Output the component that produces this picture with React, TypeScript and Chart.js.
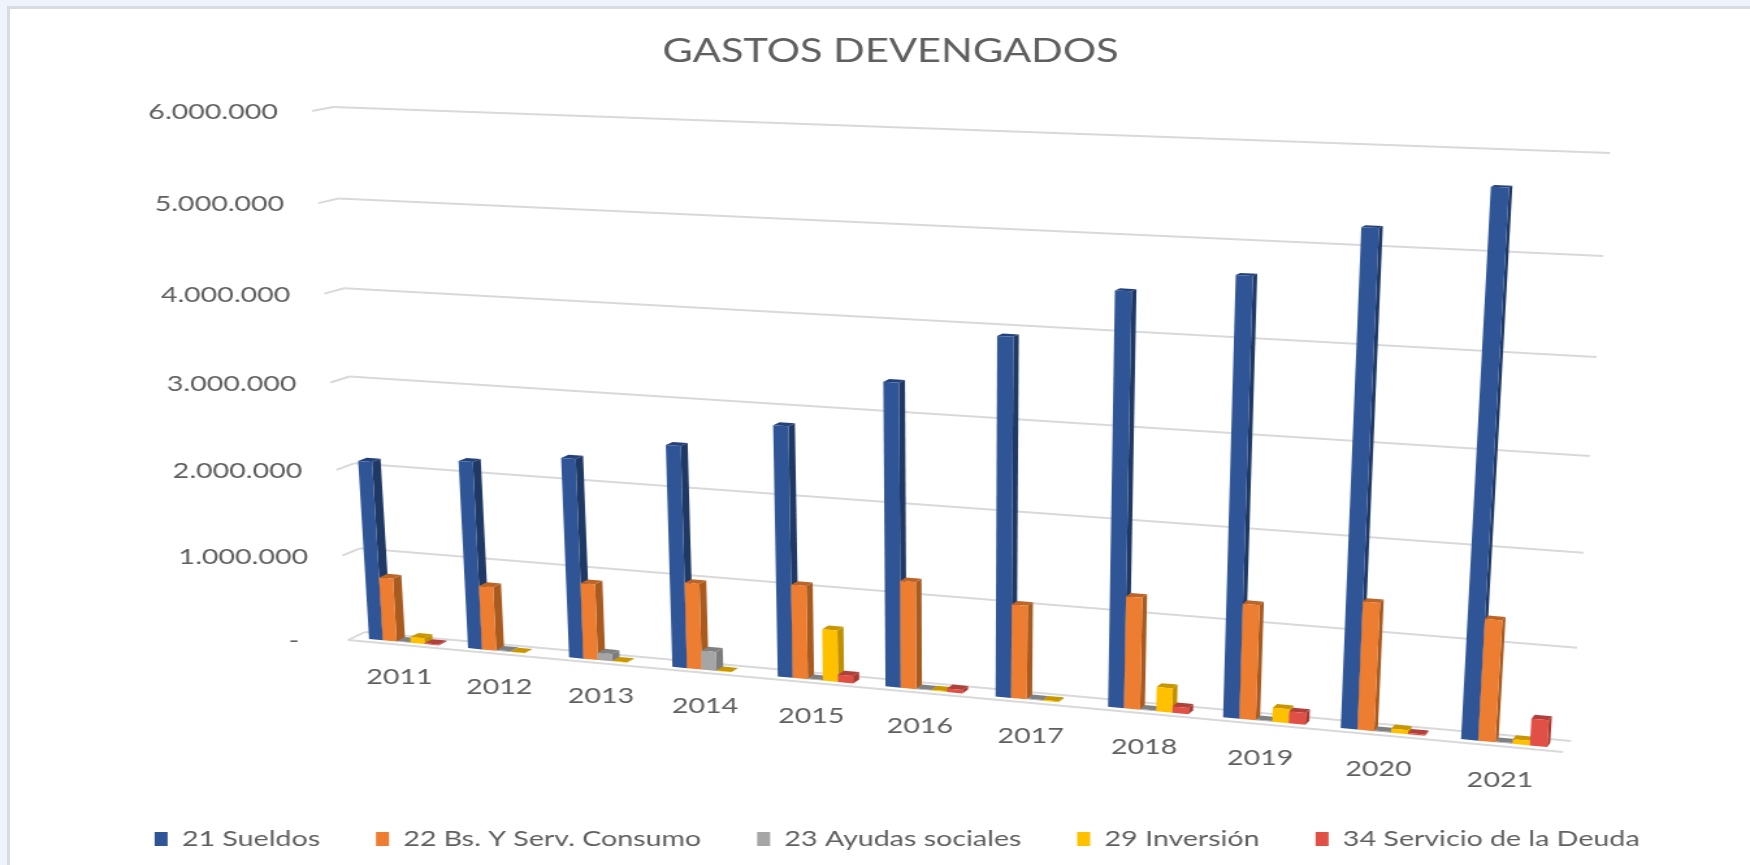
import React, { useEffect, useRef } from "react";
import { Chart, registerables } from "chart.js";

Chart.register(...registerables);

const categories = ["2011", "2012", "2013", "2014", "2015", "2016", "2017", "2018", "2019", "2020", "2021"];
const sueldos = [2106000, 2190000, 2310000, 2540000, 2840000, 3390000, 3950000, 4490000, 4710000, 5250000, 5700000];
const bienes = [750000, 750000, 885000, 990000, 1068000, 1212000, 1050000, 1242000, 1265000, 1392000, 1310000];
const ayudas = [8000, 8000, 85000, 220000, 8000, 8000, 8000, 8000, 8000, 8000, 8000];
const inversion = [70000, 3000, 4000, 3000, 590000, 10000, 10000, 270000, 155000, 45000, 50000];
const deuda = [10000, 0, 0, 0, 85000, 40000, 0, 70000, 130000, 15000, 290000];

const names = ["21 Sueldos", "22 Bs. Y Serv. Consumo", "23 Ayudas sociales", "29 Inversión", "34 Servicio de la Deuda"];
const seriesValues = [sueldos, bienes, ayudas, inversion, deuda];
const frontColors = ["#2f5597", "#ed7d31", "#a5a5a5", "#ffc000", "#e15045"];
const sideColors = ["#1f3864", "#a85a1f", "#7c7c7c", "#bf9000", "#a93b33"];
const topColors = ["#24427a", "#bd6427", "#808080", "#c79600", "#b2403a"];

const STRETCH = 1750 / 1346;
const FONT = "Lato";
const TEXT = "#5f5f5f";
const GRID = "#d9d9d9";

type Pt = [number, number];

function homography(p0: Pt, p1: Pt, p2: Pt, p3: Pt) {
  const dx1 = p1[0] - p2[0], dx2 = p3[0] - p2[0], sx = p0[0] - p1[0] + p2[0] - p3[0];
  const dy1 = p1[1] - p2[1], dy2 = p3[1] - p2[1], sy = p0[1] - p1[1] + p2[1] - p3[1];
  const det = dx1 * dy2 - dx2 * dy1;
  const g = (sx * dy2 - dx2 * sy) / det;
  const h = (dx1 * sy - sx * dy1) / det;
  const a = p1[0] - p0[0] + g * p1[0], b = p3[0] - p0[0] + h * p3[0], c = p0[0];
  const d = p1[1] - p0[1] + g * p1[1], e = p3[1] - p0[1] + h * p3[1], f = p0[1];
  return (u: number, v: number): Pt => {
    const w = g * u + h * v + 1;
    return [(a * u + b * v + c) / w, (d * u + e * v + f) / w];
  };
}

// wall = back plane of the 3D box; front = plane of the bars' front faces
const wall = homography([365, 632], [1571, 741], [1610, 153], [333, 107]);
const front = homography([354.5, 637.7], [1565.6, 748.7], [1604, 160], [321.5, 113]);

const depth = (u: number, v: number): Pt => [8.5 - 5.5 * u, -4 * (1 - 0.6 * v)];

const threeD = {
  id: "threeD",
  beforeDatasetDraw() {
    return false;
  },
  beforeDatasetsDraw(chart: any) {
    const { ctx, chartArea: area } = chart;
    const yScale = chart.scales.y;
    const xScale = chart.scales.x;
    const normU = (x: number) => (x - area.left) / (area.right - area.left);
    const normV = (y: number) => (area.bottom - y) / (area.bottom - area.top);
    const line = (a: Pt, b: Pt) => {
      ctx.beginPath();
      ctx.moveTo(a[0] / STRETCH, a[1]);
      ctx.lineTo(b[0] / STRETCH, b[1]);
      ctx.stroke();
    };
    const poly = (pts: Pt[], color: string) => {
      ctx.beginPath();
      pts.forEach((p, i) => (i ? ctx.lineTo(p[0] / STRETCH, p[1]) : ctx.moveTo(p[0] / STRETCH, p[1])));
      ctx.closePath();
      ctx.fillStyle = color;
      ctx.fill();
    };
    ctx.save();
    ctx.strokeStyle = GRID;
    ctx.lineWidth = 2;
    ctx.font = `22px ${FONT}`;
    ctx.fillStyle = TEXT;
    ctx.textBaseline = "middle";
    ctx.textAlign = "right";
    yScale.ticks.forEach((tick: any) => {
      const v = normV(yScale.getPixelForValue(tick.value));
      const kink = wall(0, v);
      const start: Pt = [kink[0] - 17 - 4 * v, kink[1] + 8 - 4 * v];
      line(start, kink);
      line(kink, wall(1, v));
      ctx.fillStyle = TEXT;
      ctx.fillText(tick.label, (start[0] - 34) / STRETCH, start[1] + 1);
    });
    line([348, 640], [1563, 752]);

    chart.getDatasetMeta(0).data.forEach((_: any, i: number) => {
      seriesValues.forEach((_s, s) => {
        const bar: any = chart.getDatasetMeta(s).data[i];
        if (!seriesValues[s][i]) return;
        const uL = normU(bar.x - bar.width / 2);
        const uR = normU(bar.x + bar.width / 2);
        const vB = normV(bar.base);
        const vT = normV(bar.y);
        const fl = front(uL, vB), fr = front(uR, vB), tr = front(uR, vT), tl = front(uL, vT);
        const off = (p: Pt, u: number, v: number): Pt => {
          const d = depth(u, v);
          return [p[0] + d[0], p[1] + d[1]];
        };
        poly([fr, tr, off(tr, uR, vT), off(fr, uR, vB)], sideColors[s]);
        poly([tl, tr, off(tr, uR, vT), off(tl, uL, vT)], topColors[s]);
        poly([fl, fr, tr, tl], frontColors[s]);
      });
    });

    ctx.font = `22px ${FONT}`;
    ctx.fillStyle = TEXT;
    ctx.textAlign = "center";
    xScale.ticks.forEach((_t: any, i: number) => {
      const u = normU(xScale.getPixelForTick(i));
      const p = front(u, 0);
      ctx.fillText(categories[i], (p[0] - 4) / STRETCH, p[1] + 35 + 2 * u);
    });
    ctx.restore();
  },
};

export default function App() {
  const ref = useRef<HTMLCanvasElement>(null);
  useEffect(() => {
    document.body.style.margin = "0";
    document.body.style.overflow = "hidden";
    const chart = new Chart(ref.current!, {
      type: "bar",
      data: {
        labels: categories,
        datasets: seriesValues.map((data, s) => ({
          label: names[s],
          data,
          backgroundColor: frontColors[s],
          categoryPercentage: 0.702,
          barPercentage: 1,
        })),
      },
      options: {
        animation: false,
        responsive: false,
        devicePixelRatio: 1,
        layout: { padding: { left: 24 } },
        scales: {
          x: { grid: { display: false }, border: { display: false }, ticks: { display: false } },
          y: {
            min: 0,
            max: 6000000,
            grid: { display: false },
            border: { display: false },
            afterFit: (s: any) => {
              s.width = 10;
            },
            ticks: {
              display: false,
              stepSize: 1000000,
              callback: (v: any) => (v === 0 ? "-  " : Number(v).toLocaleString("de-DE")),
            },
          },
        },
        plugins: {
          tooltip: { enabled: false },
          title: {
            display: true,
            text: "GASTOS DEVENGADOS",
            color: TEXT,
            font: { family: FONT, size: 32, weight: "normal" },
            padding: { top: 32, bottom: 10 },
          },
          legend: {
            position: "bottom",
            fullSize: false,
            labels: {
              color: TEXT,
              font: { family: FONT, size: 22 },
              boxWidth: 10,
              boxHeight: 14,
              padding: 43,
            },
          },
        },
      } as any,
      plugins: [threeD],
    } as any);
    return () => chart.destroy();
  }, []);
  return (
    <div style={{ position: "fixed", inset: 0, overflow: "hidden", background: "#eff3fc" }}>
      <div
        style={{
          position: "absolute",
          left: 7,
          top: 6,
          right: -10,
          bottom: -10,
          background: "#fff",
          borderLeft: "3px solid #d9dbe0",
          borderTop: "3px solid #d9dbe0",
        }}
      />
      <canvas
        ref={ref}
        width={1346}
        height={860}
        style={{
          position: "absolute",
          left: 0,
          top: 0,
          transform: `scaleX(${STRETCH})`,
          transformOrigin: "0 0",
          filter: "blur(0.5px)",
        }}
      />
    </div>
  );
}
